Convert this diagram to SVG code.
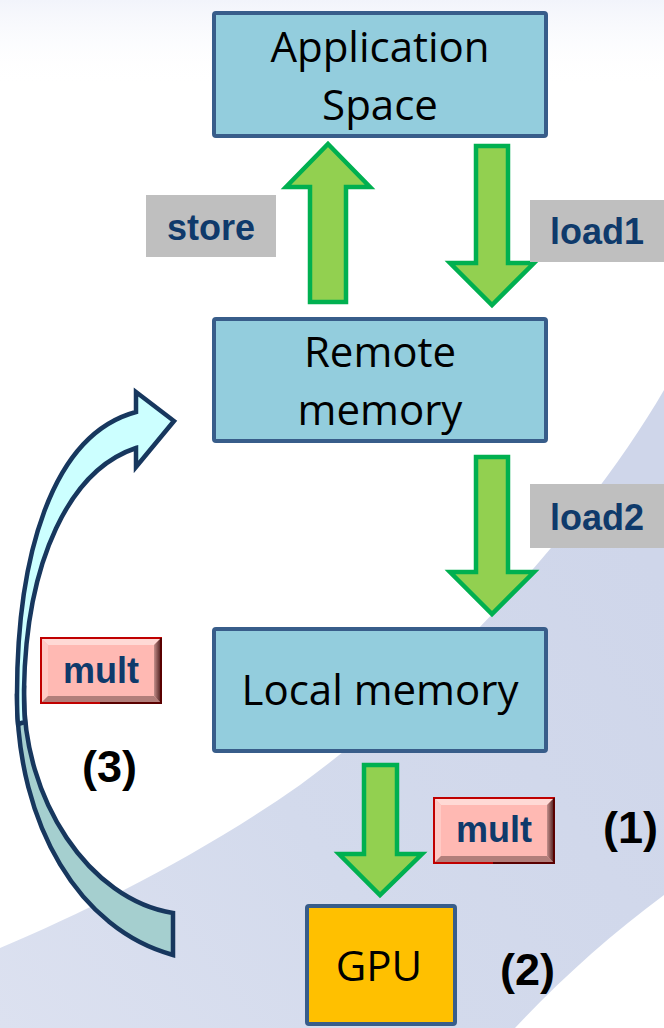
<svg xmlns="http://www.w3.org/2000/svg" width="664" height="1028" viewBox="0 0 664 1028">
  <defs>
    <style>
      .node { fill: #93CDDD; stroke: #385D8A; stroke-width: 4; }
      .gpu { fill: #FFC000; stroke: #385D8A; stroke-width: 4; }
      .ntext { font-family: "Open Sans", "Noto Sans", sans-serif; font-size: 42px; fill: #000000; text-anchor: middle; }
      .flow { fill: #92D050; stroke: #00B050; stroke-width: 4.5; stroke-linejoin: miter; }
      .tagbg { fill: #BFBFBF; }
      .tag { font-family: "Liberation Sans", Arial, sans-serif; font-weight: bold; font-size: 36px; fill: #0F3A6B; }
      .num { font-family: "Liberation Sans", Arial, sans-serif; font-weight: bold; font-size: 45px; fill: #000000; }
      .loop { stroke: #17375E; stroke-width: 4.5; stroke-linejoin: miter; }
    </style>
    <linearGradient id="topHaze" x1="0" y1="0" x2="0" y2="1">
      <stop offset="0" stop-color="#F2F4FB"/>
      <stop offset="1" stop-color="#FFFFFF" stop-opacity="0"/>
    </linearGradient>
    <linearGradient id="swoosh" x1="1" y1="0.3" x2="0" y2="1">
      <stop offset="0" stop-color="#CFD6EA"/>
      <stop offset="0.55" stop-color="#D3DAEC"/>
      <stop offset="1" stop-color="#DCE1F0"/>
    </linearGradient>
    <linearGradient id="bevelRight" x1="0" y1="0" x2="1" y2="0">
      <stop offset="0" stop-color="#C38F8B"/>
      <stop offset="1" stop-color="#3A0A0A"/>
    </linearGradient>
    <!-- raised pink tag used for the "mult" labels -->
    <g id="bevelTag">
      <rect x="0" y="0" width="122" height="67" fill="#FFB9B3"/>
      <polygon points="0,0 122,0 114,8 8,8" fill="#FFD9D5"/>
      <polygon points="0,0 8,8 8,59 0,67" fill="#FFCAC5"/>
      <polygon points="0,67 8,59 114,59 122,67" fill="#B27E7A"/>
      <polygon points="122,0 122,67 114,59 114,8" fill="url(#bevelRight)"/>
      <rect x="1" y="1" width="120" height="65" fill="none" stroke="#C00000" stroke-width="2"/>
      <polyline points="121,1 121,66 60,66" fill="none" stroke="#5A0000" stroke-width="2"/>
    </g>
  </defs>

  <!-- backdrop -->
  <g id="background">
    <rect x="0" y="0" width="664" height="1028" fill="#FFFFFF"/>
    <rect x="0" y="0" width="664" height="88" fill="url(#topHaze)"/>
    <path d="M664,390 C600,500 470,660 300,785 C200,855 90,910 0,948 L0,1028 L515,1028 C560,980 610,935 664,895 Z" fill="url(#swoosh)"/>
  </g>

  <!-- connectors -->
  <g id="connectors">
    <polygon id="arrow-store" class="flow" points="328,144 370,187 346,187 346,302 310,302 310,187 286,187"/>
    <polygon id="arrow-load1" class="flow" points="476,146 508,146 508,263 534,263 492,305 450,263 476,263"/>
    <polygon id="arrow-load2" class="flow" points="476,457 508,457 508,572 534,572 492,614 450,572 476,572"/>
    <polygon id="arrow-mult" class="flow" points="364,765 397,765 397,854 422,854 380,895 339,854 364,854"/>
    <g id="arrow-loop" class="loop">
      <path fill="#A5CFCF" d="M173,913 C90,900 22,800 24,690 L17,695 C17,825 80,930 173,955 Z"/>
      <path fill="#CCFFFF" d="M136,412 C50,435 17,560 17,695 C17,705 17,715 18,724 L25,722 C24,712 24,700 24,690 C26,560 70,470 136,448 L136,467 L174,421 L136,392 Z"/>
    </g>
  </g>

  <!-- edge labels -->
  <g id="label-store">
    <rect class="tagbg" x="146" y="195" width="130" height="62"/>
    <text class="tag" x="211" y="240" text-anchor="middle">store</text>
  </g>
  <g id="label-load1">
    <rect class="tagbg" x="530" y="200" width="134" height="62"/>
    <text class="tag" x="550" y="244">load1</text>
  </g>
  <g id="label-load2">
    <rect class="tagbg" x="530" y="484" width="134" height="64"/>
    <text class="tag" x="550" y="530">load2</text>
  </g>
  <g id="label-mult-local">
    <use href="#bevelTag" x="433" y="797"/>
    <text class="tag" x="494" y="842" text-anchor="middle">mult</text>
  </g>
  <g id="label-mult-loop">
    <use href="#bevelTag" x="40" y="637"/>
    <text class="tag" x="101" y="683" text-anchor="middle">mult</text>
  </g>

  <!-- nodes -->
  <g id="node-application">
    <rect class="node" x="214" y="13" width="332" height="123" rx="2"/>
    <text class="ntext" x="380" y="62">Application</text>
    <text class="ntext" x="380" y="120">Space</text>
  </g>
  <g id="node-remote">
    <rect class="node" x="214" y="319" width="332" height="122" rx="2"/>
    <text class="ntext" x="380" y="367">Remote</text>
    <text class="ntext" x="380" y="425">memory</text>
  </g>
  <g id="node-local">
    <rect class="node" x="214" y="629" width="332" height="122" rx="2"/>
    <text class="ntext" x="380" y="705">Local memory</text>
  </g>
  <g id="node-gpu">
    <rect class="gpu" x="307" y="906" width="148" height="118" rx="2"/>
    <text class="ntext" x="379" y="981">GPU</text>
  </g>

  <!-- step numbers -->
  <g id="steps">
    <text class="num" x="603" y="843">(1)</text>
    <text class="num" x="500" y="985">(2)</text>
    <text class="num" x="82" y="782">(3)</text>
  </g>
</svg>
